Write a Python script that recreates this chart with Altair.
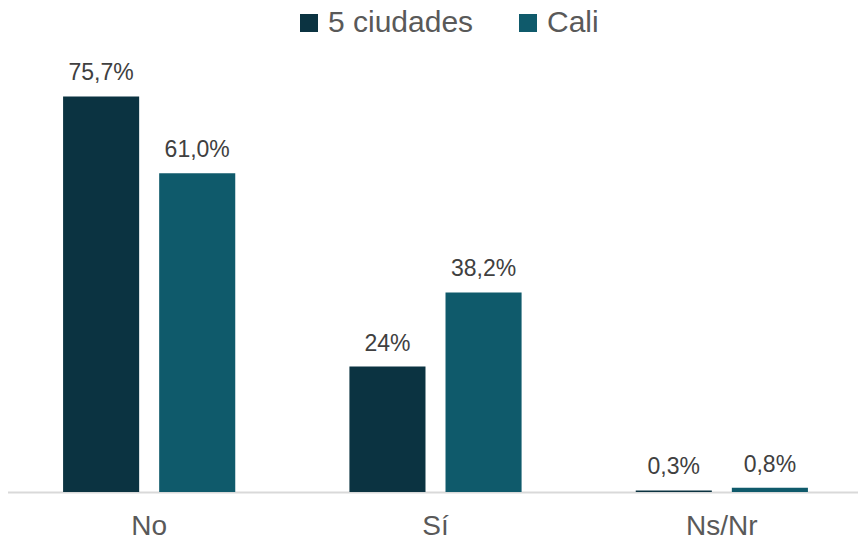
import altair as alt
import pandas as pd

categories = ["No", "Sí", "Ns/Nr"]
series = ["5 ciudades", "Cali"]
values_5c = [75.7, 24.0, 0.3]
values_cali = [61.0, 38.2, 0.8]
labels_5c = ["75,7%", "24%", "0,3%"]
labels_cali = ["61,0%", "38,2%", "0,8%"]

rows = []
for c, v, l in zip(categories, values_5c, labels_5c):
    rows.append({"cat": c, "serie": series[0], "val": v, "lab": l})
for c, v, l in zip(categories, values_cali, labels_cali):
    rows.append({"cat": c, "serie": series[1], "val": v, "lab": l})
df = pd.DataFrame(rows)

FONT = "Liberation Sans"
colors = ["#0B3341", "#0F5A6B"]

x_scale = alt.Scale(paddingInner=0, paddingOuter=0, range=[-2, 857])
xo_scale = alt.Scale(paddingInner=0.2083, paddingOuter=0.594)

x_enc = alt.X("cat:N", sort=categories, title=None, scale=x_scale,
              axis=alt.Axis(labelFontSize=28, labelColor="#595959", labelFont=FONT,
                            labelAngle=0, ticks=False, labelPadding=20,
                            domainColor="#D9D9D9", domainWidth=2, grid=False))
xo_enc = alt.XOffset("serie:N", sort=series, scale=xo_scale)
y_enc = alt.Y("val:Q", scale=alt.Scale(domain=[0, 80], nice=False), axis=None)

bars = alt.Chart(df).mark_bar().encode(
    x=x_enc, xOffset=xo_enc, y=y_enc,
    color=alt.Color("serie:N", sort=series,
                    scale=alt.Scale(domain=series, range=colors),
                    legend=alt.Legend(title=None, orient="none", direction="horizontal",
                                      legendX=286, legendY=-66,
                                      labelFontSize=30, labelFont=FONT, labelColor="#595959",
                                      symbolType="square", symbolSize=324,
                                      symbolStrokeWidth=0, labelOffset=4,
                                      columnPadding=39))
)

text = alt.Chart(df).mark_text(fontSize=23, font=FONT, color="#404040",
                               baseline="alphabetic", dy=-16).encode(
    x=alt.X("cat:N", sort=categories), xOffset=alt.XOffset("serie:N", sort=series),
    y="val:Q", text="lab:N"
)

chart = alt.layer(bars, text).properties(
    width=850, height=418,
    autosize=alt.AutoSizeParams(type="none"),
    padding={"left": 0, "top": 66, "right": 0, "bottom": 51},
).configure_view(stroke=None)

chart.save("out.html", embed_options={"renderer": "svg", "actions": False})
